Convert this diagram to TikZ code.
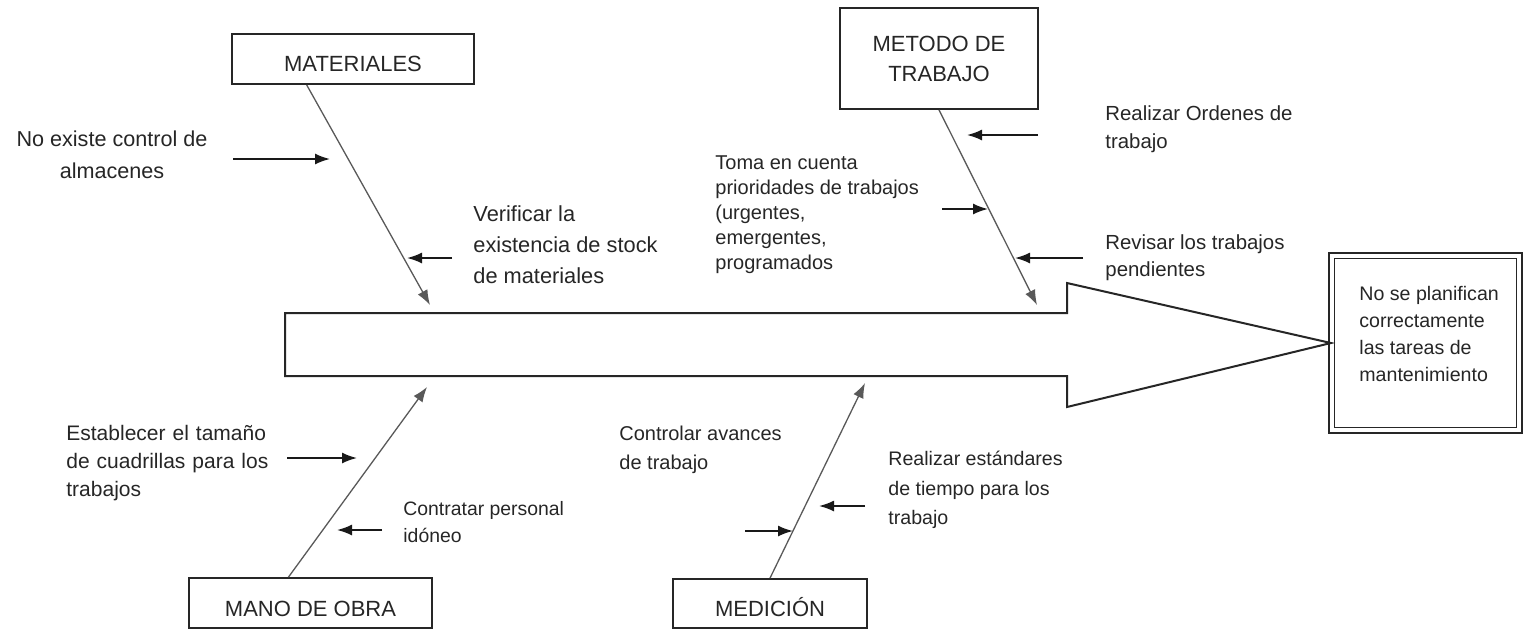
\documentclass[tikz,border=0pt]{standalone}
\usepackage{fontspec}
\setmainfont{Liberation Sans}
\usetikzlibrary{arrows.meta,calc}
\begin{document}
\begin{tikzpicture}[x=0.5pt,y=-0.5pt,
  catbox/.style={draw=black!85, line width=0.9pt, inner sep=0pt, align=center, text=black!85,
    font=\fontsize{11}{15}\selectfont},
  txt/.style={inner sep=0pt, align=left, anchor=north west, text=black!85},
  bone/.style={draw=black!65, line width=0.65pt, -{Latex[length=7.5pt,width=5.5pt]}},
  cause/.style={draw=black!90, line width=0.85pt, -{Latex[length=7.5pt,width=5.5pt]}},
  spine/.style={draw=black!85, line width=1pt},
]
\useasboundingbox (0,0) rectangle (1524,629);

% category boxes
\node[catbox, minimum width=121pt, text height=18.5pt, text depth=6.5pt] (mat) at (353,59) {MATERIALES};
\node[catbox, minimum width=99pt, minimum height=50.5pt] (met) at (939,58.5) {METODO DE\\TRABAJO};
\node[catbox, minimum width=121.5pt, text height=19pt, text depth=6pt] (mano) at (310.5,603) {MANO DE OBRA};
\node[catbox, minimum width=97pt, text height=18.5pt, text depth=6pt] (med) at (770,603.5) {MEDICIÓN};

% effect box
\node[draw=black!85, double, double distance=2pt, line width=0.7pt, minimum width=93.9pt,
  minimum height=87.4pt, inner sep=0pt] (eff) at (1425.5,343) {};
\node[txt, font=\fontsize{9.8}{13.5}\selectfont] (efftxt) at (1359,286)
  {No se planifican\\correctamente\\las tareas de\\mantenimiento};

% spine (big arrow)
\draw[spine, fill=white] (285,313) -- (1067,313) -- (1067,283) -- (eff.west)
  -- (1067,407) -- (1067,376) -- (285,376) -- cycle;

% bone tips
\coordinate (matTip) at (430,305);
\coordinate (metTip) at (1037,305);
\coordinate (manoTip) at (427,387);
\coordinate (medTip) at (865,383);

\draw[bone] ($(mat.south west)!0.31!(mat.south east)$) -- (matTip);
\draw[bone] (met.south) -- (metTip);
\draw[bone] ($(mano.north west)!0.41!(mano.north east)$) -- (manoTip);
\draw[bone] (med.north) -- (medTip);

% cause texts
\node[txt, anchor=north, align=center, font=\fontsize{10.8}{16}\selectfont] (t1) at (112,130)
  {No existe control de\\almacenes};
\node[txt, font=\fontsize{10.9}{15.5}\selectfont] (t2) at (473,205)
  {Verificar la\\existencia de stock\\de materiales};
\node[txt, font=\fontsize{10}{12.6}\selectfont] (t3) at (715,155)
  {Toma en cuenta\\prioridades de trabajos\\(urgentes,\\emergentes,\\programados};
\node[txt, font=\fontsize{10.2}{14}\selectfont] (t4) at (1105,105)
  {Realizar Ordenes de\\trabajo};
\node[txt, font=\fontsize{10.2}{13.5}\selectfont] (t5) at (1105,234)
  {Revisar los trabajos\\pendientes};
\node[txt, text width=100.5pt, font=\fontsize{10.5}{14}\selectfont] (t6) at (66,425)
  {\makebox[100.5pt][s]{Establecer el tamaño}\\\makebox[100.5pt][s]{de cuadrillas para los}\\trabajos};
\node[txt, font=\fontsize{9.7}{13.5}\selectfont] (t7) at (403,501)
  {Contratar personal\\idóneo};
\node[txt, font=\fontsize{10}{14.5}\selectfont] (t8) at (619,426)
  {Controlar avances\\de trabajo};
\node[txt, font=\fontsize{9.8}{14.7}\selectfont] (t9) at (888,451)
  {Realizar estándares\\de tiempo para los\\trabajo};

% cause arrows
\coordinate (c1s) at (233,159); \coordinate (c1e) at (330,159);
\coordinate (c2s) at (452,258); \coordinate (c2e) at (407,258);
\coordinate (c3s) at (1038,135); \coordinate (c3e) at (967,135);
\coordinate (c4s) at (942,209); \coordinate (c4e) at (988,209);
\coordinate (c5s) at (1083,258); \coordinate (c5e) at (1015,258);
\coordinate (c6s) at (287,458); \coordinate (c6e) at (357,458);
\coordinate (c7s) at (382,530); \coordinate (c7e) at (337,530);
\coordinate (c8s) at (745,531); \coordinate (c8e) at (793,531);
\coordinate (c9s) at (865,506); \coordinate (c9e) at (819,506);
\foreach \i in {1,...,9} { \draw[cause] (c\i s) -- (c\i e); }
\end{tikzpicture}
\end{document}
